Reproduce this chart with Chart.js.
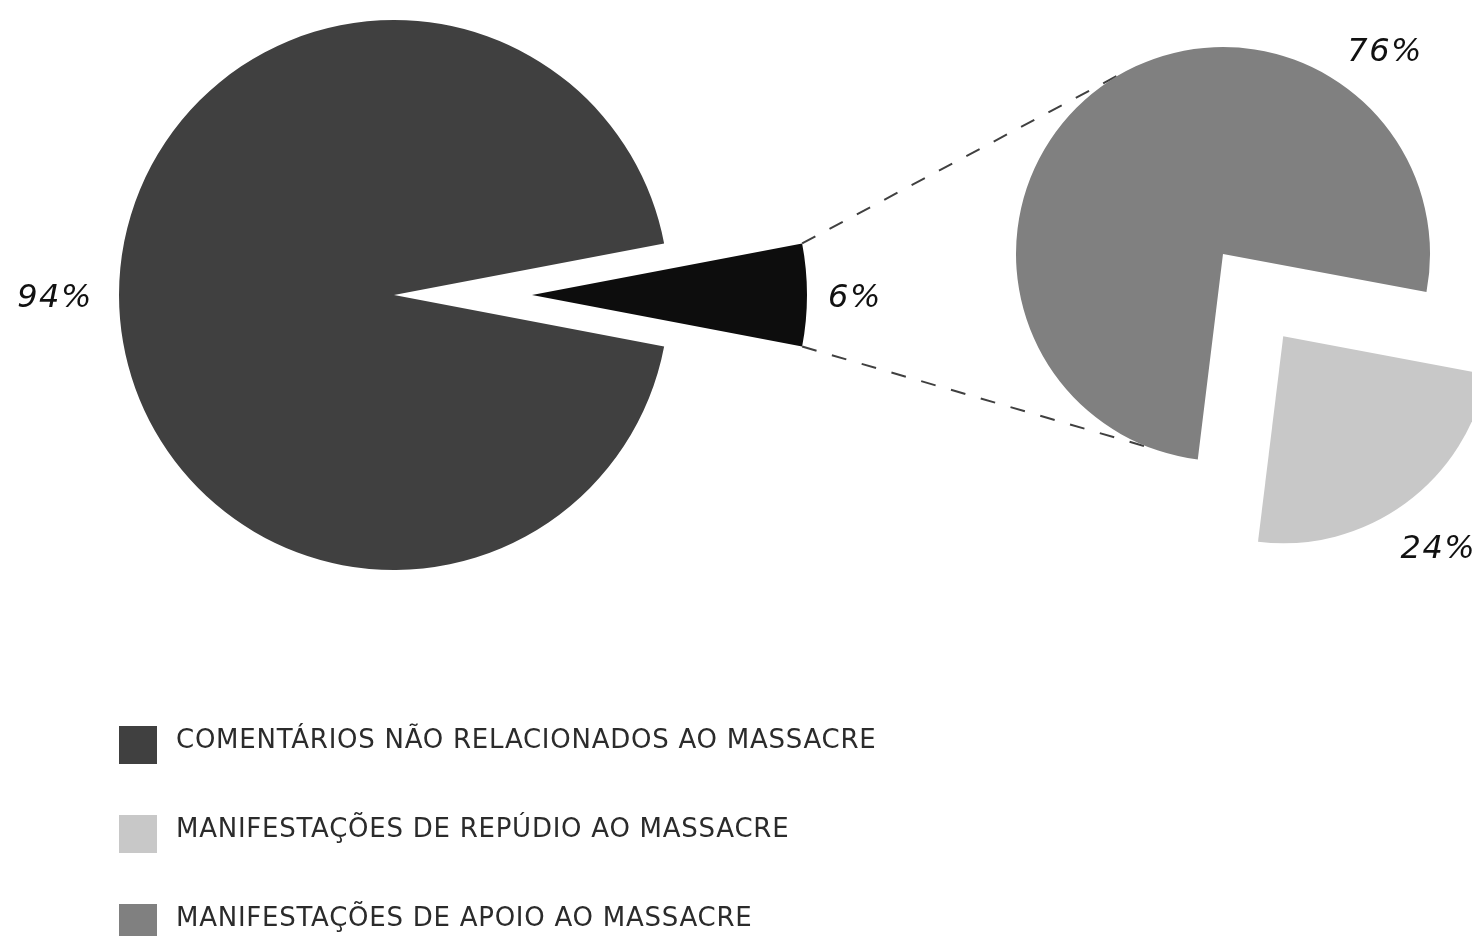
<!DOCTYPE html>
<html lang="pt-BR">
<head>
<meta charset="utf-8">
<title>Comentários sobre o massacre</title>
<script src="https://cdn.jsdelivr.net/npm/chart.js@4.4.1/dist/chart.umd.min.js"></script>
<style>
	html, body { margin: 0; padding: 0; background: #fff; }
	#wrap { position: relative; width: 1472px; height: 936px; overflow: hidden; }
	#wrap canvas { position: absolute; left: 0; top: 0; }
	.legend-item { position: absolute; left: 119px; height: 38px; }
	.legend-box { position: absolute; left: 0; top: 0; width: 38px; height: 38px; }
	.legend-text {
		position: absolute; left: 57px; top: -2px;
		font: 26px "DejaVu Sans", Verdana, sans-serif;
		line-height: 30px;
		letter-spacing: 0.75px;
		color: #2b2b2b;
		white-space: nowrap;
	}
</style>
</head>
<body>
<div id="wrap">
	<canvas id="overviewChart" width="1472" height="936"></canvas>
	<canvas id="detailChart" width="1472" height="936"></canvas>
	<div id="legend"></div>
</div>
<script>
/*
 * VARIABLES
 */
	var overviewLabels = ['COMENTÁRIOS RELACIONADOS AO MASSACRE', 'COMENTÁRIOS NÃO RELACIONADOS AO MASSACRE'];
	var overviewValues = [6, 94];
	var overviewColors = ['#0d0d0d', '#404040'];

	var detailLabels = ['MANIFESTAÇÕES DE REPÚDIO AO MASSACRE', 'MANIFESTAÇÕES DE APOIO AO MASSACRE'];
	var detailValues = [24, 76];
	var detailColors = ['#c8c8c8', '#808080'];

	/* legend rows: [chart, slice index] */
	var legendOrder = [['overview', 1], ['detail', 0], ['detail', 1]];

	var W = 1472, H = 936;
	var DEG = Math.PI / 180;

/*
 * HELPERS
 */
	/* PADDING - puts the chart area centre on (cx, cy) */
	function centreOn(cx, cy) {
		return {
			left: Math.max(0, 2 * cx - W),
			right: Math.max(0, W - 2 * cx),
			top: Math.max(0, 2 * cy - H),
			bottom: Math.max(0, H - 2 * cy)
		};
	}

	/* APEX - tip of a slice after pulling it out */
	function apexOf(arc, pull) {
		var mid = (arc.startAngle + arc.endAngle) / 2;
		return { x: arc.x + Math.cos(mid) * pull, y: arc.y + Math.sin(mid) * pull };
	}

/*
 * PLUGINS
 */
	/* EXPLODE - draw each arc moved out along its middle angle */
	var explodePlugin = {
		id: 'explode',
		beforeDatasetDraw: function(chart, args) {
			var ds = chart.data.datasets[args.index];
			var ctx = chart.ctx;
			args.meta.data.forEach(function(arc, i) {
				var pull = ds.explode[i] || 0;
				var mid = (arc.startAngle + arc.endAngle) / 2;
				ctx.save();
				ctx.translate(Math.cos(mid) * pull, Math.sin(mid) * pull);
				arc.draw(ctx);
				ctx.restore();
			});
			return false;
		}
	};

	/* SLICE LABELS - percentage outside each slice */
	var sliceLabelPlugin = {
		id: 'sliceLabels',
		afterDatasetsDraw: function(chart) {
			var ctx = chart.ctx;
			var ds = chart.data.datasets[0];
			var arcs = chart.getDatasetMeta(0).data;
			ctx.save();
			ctx.font = 'oblique 32px "DejaVu Sans", Verdana, sans-serif';
			ctx.letterSpacing = '1.5px';
			ctx.fillStyle = '#111';
			ctx.textAlign = 'center';
			ctx.textBaseline = 'alphabetic';
			arcs.forEach(function(arc, i) {
				var p = apexOf(arc, ds.explode[i] || 0);
				var a = ds.labelAngle[i] != null ? ds.labelAngle[i] * DEG : (arc.startAngle + arc.endAngle) / 2;
				var d = ds.labelDistance[i];
				ctx.fillText(ds.data[i] + '%', p.x + Math.cos(a) * d + 1, p.y + Math.sin(a) * d + 11.5);
			});
			ctx.restore();
		}
	};

	/* CONNECTORS - dashed lines from the small slice to the second pie */
	var connectorPlugin = {
		id: 'connectors',
		beforeDatasetsDraw: function(chart) {
			var srcDs = overviewChart.data.datasets[0];
			var src = overviewChart.getDatasetMeta(0).data[0];
			var tip = apexOf(src, srcDs.explode[0]);
			var dst = chart.getDatasetMeta(0).data[0];
			var ends = [-118.4, 110.7];
			var corners = [src.startAngle, src.endAngle];
			var ctx = chart.ctx;
			ctx.save();
			ctx.strokeStyle = '#404040';
			ctx.lineWidth = 2;
			ctx.setLineDash([15, 16]);
			for (var k = 0; k < 2; k++) {
				ctx.beginPath();
				ctx.moveTo(tip.x + Math.cos(corners[k]) * src.outerRadius, tip.y + Math.sin(corners[k]) * src.outerRadius);
				ctx.lineTo(dst.x + Math.cos(ends[k] * DEG) * dst.outerRadius, dst.y + Math.sin(ends[k] * DEG) * dst.outerRadius);
				ctx.stroke();
			}
			ctx.restore();
		}
	};

/*
 * CHARTS
 */
	var baseOptions = function(cx, cy, radius, rotation) {
		return {
			responsive: false,
			animation: false,
			devicePixelRatio: 1,
			radius: radius,
			rotation: rotation,
			layout: { padding: centreOn(cx, cy) },
			plugins: {
				legend: { display: false },
				tooltip: { enabled: false }
			}
		};
	};

	var overviewChart = new Chart(document.getElementById('overviewChart'), {
		type: 'pie',
		data: {
			labels: overviewLabels,
			datasets: [{
				data: overviewValues,
				backgroundColor: overviewColors,
				borderWidth: 0,
				clip: false,
				explode: [138, 0],
				labelAngle: [null, null],
				labelDistance: [322, 340]
			}]
		},
		options: baseOptions(394, 295, 275, 79.2),
		plugins: [explodePlugin, sliceLabelPlugin]
	});

	var detailChart = new Chart(document.getElementById('detailChart'), {
		type: 'pie',
		data: {
			labels: detailLabels,
			datasets: [{
				data: detailValues,
				backgroundColor: detailColors,
				borderWidth: 0,
				clip: false,
				explode: [102, 0],
				labelAngle: [null, -51.7],
				labelDistance: [261, 260]
			}]
		},
		options: baseOptions(1223, 254, 207, 100.6),
		plugins: [connectorPlugin, explodePlugin, sliceLabelPlugin]
	});

/*
 * LEGEND
 */
	(function buildLegend() {
		var source = {
			overview: { labels: overviewLabels, colors: overviewColors },
			detail: { labels: detailLabels, colors: detailColors }
		};
		var legend = document.getElementById('legend');
		legendOrder.forEach(function(entry, row) {
			var s = source[entry[0]];
			var item = document.createElement('div');
			item.className = 'legend-item';
			item.style.top = (726 + row * 89) + 'px';
			var box = document.createElement('span');
			box.className = 'legend-box';
			box.style.background = s.colors[entry[1]];
			var text = document.createElement('span');
			text.className = 'legend-text';
			text.textContent = s.labels[entry[1]];
			item.appendChild(box);
			item.appendChild(text);
			legend.appendChild(item);
		});
	})();
</script>
</body>
</html>
